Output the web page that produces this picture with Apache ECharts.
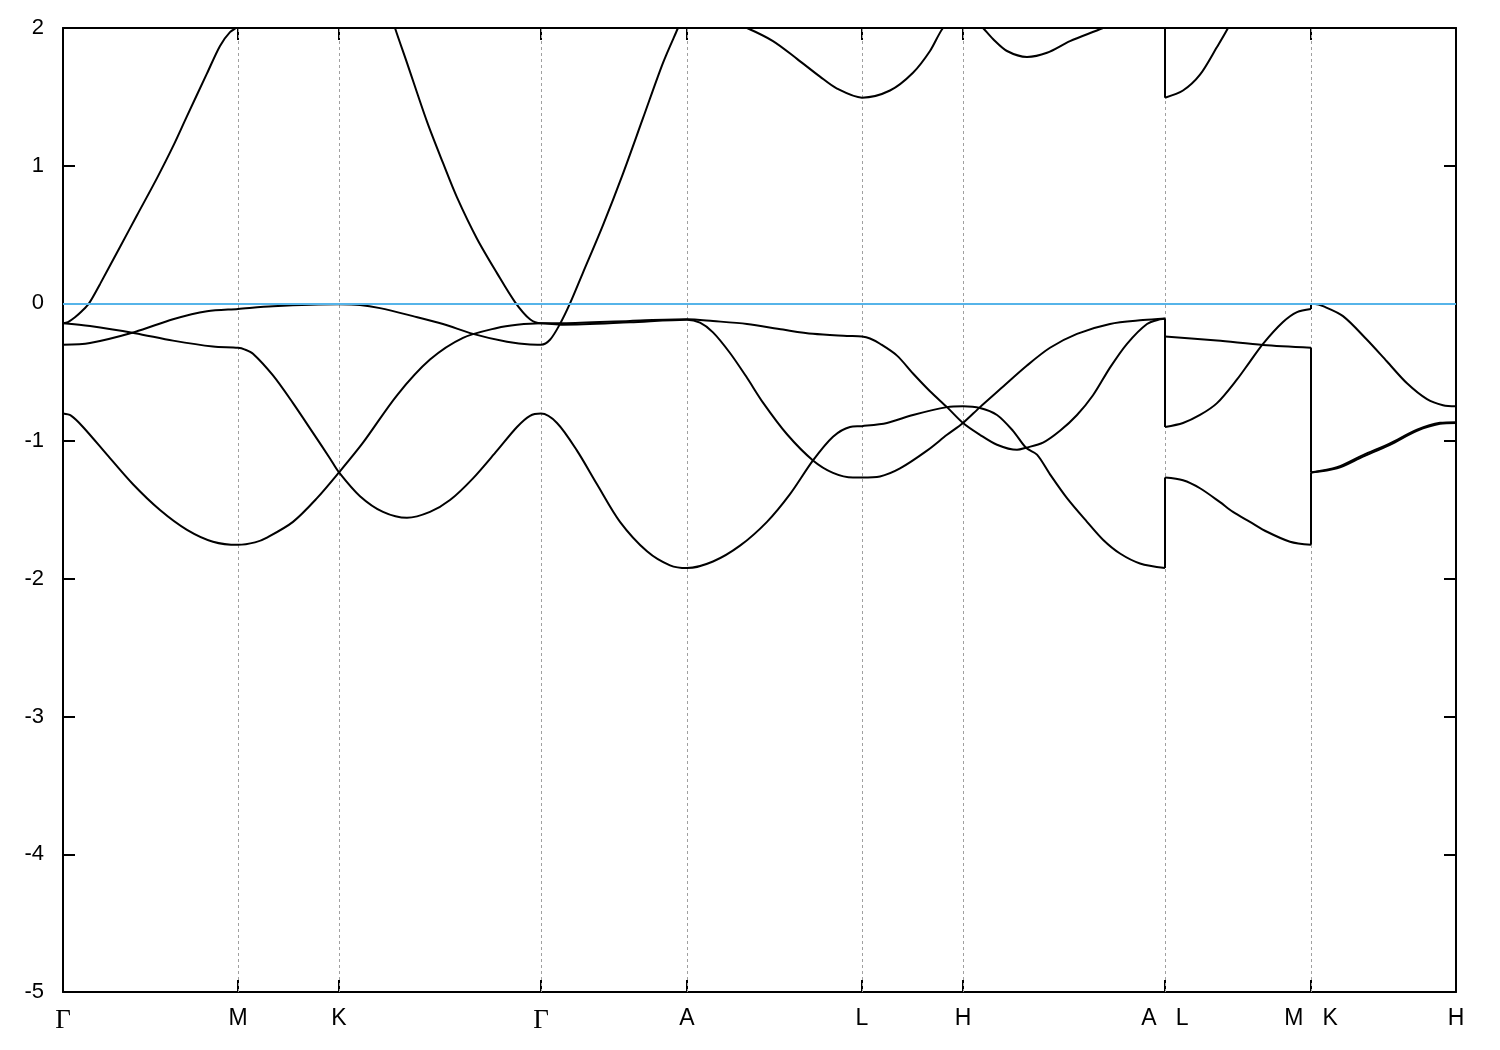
<!DOCTYPE html>
<html>
<head>
<meta charset="utf-8">
<title>Band structure</title>
<script src="https://cdn.jsdelivr.net/npm/echarts@6/dist/echarts.min.js"></script>
<style>
  html, body { margin: 0; padding: 0; background: #ffffff; }
  #chart { width: 1500px; height: 1050px; }
</style>
</head>
<body>
<div id="chart"></div>
<script>
// High-symmetry points along the k-path (path distance, arbitrary units)
const kPos = [0, 1.75, 2.76, 4.78, 6.24, 7.99, 9.00, 11.02, 12.48, 13.93];
const kLabels = ['Γ', 'M', 'K', 'Γ', 'A', 'L', 'H', 'A   L', 'M   K', 'H'];
const yMin = -5, yMax = 2, yStep = 1;
const fermiLevel = 0;

// Part 1: Γ-M-K-Γ-A-L-H-A  (energy in eV)
const band1 = [
  [0, -0.144], [0.05, -0.135], [0.12, -0.10], [0.19, -0.055], [0.26, 0.0], [0.37, 0.14],
  [0.57, 0.41], [0.74, 0.64], [0.94, 0.91], [1.10, 1.14], [1.24, 1.36], [1.44, 1.67],
  [1.57, 1.87], [1.67, 1.97], [1.75, 2.01],
  [2.10, 2.25], [2.76, 2.6], [3.05, 2.5], [3.20, 2.28], [3.32, 2.0],
  [3.44, 1.747], [3.64, 1.32], [3.80, 1.02], [3.94, 0.77], [4.14, 0.47], [4.34, 0.22],
  [4.52, 0.01], [4.67, -0.115], [4.78, -0.144],
  [5.0, -0.144], [5.67, -0.127], [6.24, -0.115],
  [6.50, -0.128], [6.84, -0.149], [7.20, -0.19], [7.50, -0.221], [7.84, -0.236], [7.99, -0.241],
  [8.07, -0.255], [8.17, -0.293], [8.34, -0.379], [8.50, -0.509], [8.67, -0.638], [8.84, -0.753], [9.00, -0.868],
  [9.17, -0.954], [9.34, -1.026], [9.54, -1.063], [9.63, -1.048], [9.80, -1.011], [9.97, -0.925],
  [10.14, -0.81], [10.30, -0.667], [10.47, -0.466], [10.64, -0.293], [10.84, -0.149], [10.97, -0.115], [11.02, -0.112]
];
const band2 = [
  [0, -0.144], [0.27, -0.164], [0.72, -0.216], [1.10, -0.27], [1.50, -0.313], [1.75, -0.322],
  [1.82, -0.335], [1.90, -0.365], [2.10, -0.523], [2.30, -0.724], [2.50, -0.94], [2.67, -1.126], [2.76, -1.227],
  [2.97, -1.40], [3.20, -1.514], [3.44, -1.557], [3.67, -1.514], [3.87, -1.428], [4.10, -1.27],
  [4.34, -1.069], [4.54, -0.897], [4.67, -0.816], [4.78, -0.80],
  [4.94, -0.868], [5.14, -1.069], [5.34, -1.313], [5.57, -1.586], [5.84, -1.80], [6.07, -1.902], [6.24, -1.922],
  [6.50, -1.874], [6.77, -1.759], [7.04, -1.586], [7.27, -1.385], [7.50, -1.14], [7.70, -0.968], [7.87, -0.897], [7.99, -0.891],
  [8.24, -0.868], [8.50, -0.81], [8.84, -0.753], [9.00, -0.747],
  [9.17, -0.759], [9.34, -0.81], [9.50, -0.925], [9.63, -1.048], [9.74, -1.098], [9.87, -1.241],
  [10.04, -1.414], [10.24, -1.586], [10.40, -1.716], [10.57, -1.816], [10.77, -1.888], [11.02, -1.922]
];
const band3 = [
  [0, -0.30], [0.27, -0.287], [0.72, -0.207], [1.10, -0.115], [1.44, -0.057], [1.75, -0.04],
  [2.10, -0.02], [2.76, -0.006],
  [2.97, -0.011], [3.17, -0.034], [3.50, -0.092], [3.80, -0.149], [4.10, -0.221], [4.44, -0.279], [4.67, -0.299], [4.78, -0.30],
  [4.87, -0.264], [4.97, -0.149], [5.07, 0.0], [5.20, 0.224], [5.40, 0.569], [5.60, 0.943],
  [5.80, 1.345], [6.00, 1.747], [6.15, 2.0], [6.24, 2.15],
  [6.50, 2.10], [6.84, 2.0], [7.10, 1.905], [7.34, 1.776], [7.57, 1.647], [7.74, 1.56], [7.99, 1.494],
  [8.27, 1.546], [8.50, 1.675], [8.67, 1.833], [8.80, 2.0], [9.00, 2.15],
  [9.20, 2.0], [9.30, 1.92], [9.44, 1.833], [9.64, 1.79], [9.84, 1.82], [10.07, 1.905], [10.40, 2.0],
  [10.70, 2.1], [11.02, 2.15]
];
const band4 = [
  [0, -0.80], [0.08, -0.815], [0.20, -0.897], [0.44, -1.098], [0.70, -1.313], [0.97, -1.50],
  [1.24, -1.644], [1.50, -1.73], [1.75, -1.753],
  [1.92, -1.735], [2.04, -1.70], [2.30, -1.586], [2.54, -1.414], [2.76, -1.227],
  [3.00, -1.011], [3.34, -0.667], [3.67, -0.408], [4.00, -0.25], [4.34, -0.178], [4.54, -0.155], [4.78, -0.144],
  [5.0, -0.154], [5.67, -0.137], [6.24, -0.118],
  [6.37, -0.14], [6.50, -0.21], [6.67, -0.36], [6.84, -0.54], [7.00, -0.72], [7.24, -0.95],
  [7.50, -1.14], [7.70, -1.23], [7.90, -1.264], [7.99, -1.264],
  [8.17, -1.256], [8.37, -1.198], [8.64, -1.069], [8.84, -0.954], [9.00, -0.868],
  [9.17, -0.753], [9.37, -0.624], [9.64, -0.451], [9.87, -0.322], [10.14, -0.221], [10.47, -0.149],
  [10.80, -0.121], [11.02, -0.109]
];

// Part 2: L-M
const lm1 = [[11.02, 1.494], [11.20, 1.546], [11.37, 1.661], [11.54, 1.862], [11.65, 2.0], [11.80, 2.22]];
const lm2 = [[11.02, -0.241], [11.54, -0.27], [12.00, -0.302], [12.48, -0.322]];
const lm3 = [
  [11.02, -0.897], [11.20, -0.868], [11.37, -0.81], [11.54, -0.724], [11.74, -0.552], [11.87, -0.422],
  [12.00, -0.293], [12.20, -0.135], [12.34, -0.063], [12.48, -0.04]
];
const lm4 = [
  [11.02, -1.264], [11.20, -1.284], [11.37, -1.342], [11.57, -1.443], [11.70, -1.514], [11.87, -1.586],
  [12.04, -1.658], [12.27, -1.73], [12.48, -1.753]
];

// Part 3: K-H
const kh1 = [
  [12.48, -0.005], [12.52, -0.004], [12.60, -0.02], [12.80, -0.092], [13.04, -0.264], [13.24, -0.422],
  [13.44, -0.58], [13.64, -0.695], [13.80, -0.739], [13.93, -0.747]
];
const kh2 = [
  [12.48, -1.227], [12.74, -1.198], [13.00, -1.112], [13.27, -1.026], [13.54, -0.925], [13.77, -0.874], [13.93, -0.868]
];
const kh3 = [
  [12.48, -1.227], [12.74, -1.19], [13.00, -1.101], [13.27, -1.016], [13.54, -0.917], [13.77, -0.867], [13.93, -0.862]
];

const part1 = [band1, band2, band3, band4];
const part2 = [lm1, lm2, lm3, lm4];
const part3 = [kh1, kh2, kh3];

// Vertical joins at path discontinuities (bands joined in energy order, from the lowest)
function joins(prev, next, x) {
  const a = prev.map(b => b[b.length - 1][1]).sort((p, q) => p - q);
  const b = next.map(b => b[0][1]).sort((p, q) => p - q);
  const out = [];
  for (let i = 0; i < Math.min(a.length, b.length); i++) out.push([[x, a[i]], [x, b[i]]]);
  return out;
}
const joinAL = joins(part1, part2, kPos[7]);
const joinMK = joins(part2, part3, kPos[8]);

const bandStyle = { color: '#000000', width: 2 };
const series = [];

// reference lines: high-symmetry verticals (beneath the bands)
series.push({
  type: 'line', data: [], silent: true, z: 1,
  markLine: {
    silent: true, symbol: 'none', animation: false, z: 1,
    label: { show: false },
    lineStyle: { color: '#a0a0a0', type: [3, 3], width: 1 },
    data: kPos.slice(1, kPos.length - 1).map(k => ({ xAxis: k }))
  }
});

[...part1, ...part2, ...part3].forEach(b => {
  series.push({
    type: 'line', data: b, symbol: 'none', showSymbol: false, smooth: 0.3,
    lineStyle: bandStyle, clip: true, silent: true, z: 3
  });
});
[...joinAL, ...joinMK].forEach(j => {
  series.push({
    type: 'line', data: j, symbol: 'none', showSymbol: false, smooth: false,
    lineStyle: bandStyle, clip: true, silent: true, z: 3
  });
});

// Fermi level
series.push({
  type: 'line', data: [], silent: true, z: 6,
  markLine: {
    silent: true, symbol: 'none', animation: false, z: 6,
    label: { show: false },
    lineStyle: { color: '#56b4e9', type: 'solid', width: 2 },
    data: [{ yAxis: fermiLevel }]
  }
});

const labelFont = 'Liberation Sans, Arial, sans-serif';
const chart = echarts.init(document.getElementById('chart'), null, { renderer: 'canvas' });
chart.setOption({
  animation: false,
  backgroundColor: '#ffffff',
  grid: { left: 63, right: 44, top: 28, bottom: 58, containLabel: false },
  xAxis: [
    {
      type: 'value', min: kPos[0], max: kPos[kPos.length - 1], position: 'bottom',
      axisLine: { show: true, onZero: false, lineStyle: { color: '#000', width: 2 } },
      axisTick: { show: true, inside: true, length: 12, customValues: kPos, lineStyle: { color: '#000', width: 2 } },
      axisLabel: {
        show: true, customValues: kPos, margin: 15, color: '#000', fontSize: 23,
        fontFamily: labelFont,
        formatter: function (v) {
          const i = kPos.findIndex(k => Math.abs(k - v) < 1e-6);
          const t = i >= 0 ? kLabels[i] : '';
          return t === 'Γ' ? '{g|Γ}' : t;
        },
        rich: { g: { fontFamily: 'Liberation Serif, DejaVu Serif, serif', fontSize: 27, color: '#000' } }
      },
      splitLine: { show: false }
    },
    {
      type: 'value', min: kPos[0], max: kPos[kPos.length - 1], position: 'top',
      axisLine: { show: true, onZero: false, lineStyle: { color: '#000', width: 2 } },
      axisTick: { show: true, inside: true, length: 12, customValues: kPos, lineStyle: { color: '#000', width: 2 } },
      axisLabel: { show: false },
      splitLine: { show: false }
    }
  ],
  yAxis: [
    {
      type: 'value', min: yMin, max: yMax, interval: yStep, position: 'left',
      axisLine: { show: true, onZero: false, lineStyle: { color: '#000', width: 2 } },
      axisTick: { show: true, inside: true, length: 12, lineStyle: { color: '#000', width: 2 } },
      axisLabel: { show: true, margin: 19, color: '#000', fontSize: 22, fontFamily: labelFont },
      splitLine: { show: false }
    },
    {
      type: 'value', min: yMin, max: yMax, interval: yStep, position: 'right',
      axisLine: { show: true, onZero: false, lineStyle: { color: '#000', width: 2 } },
      axisTick: { show: true, inside: true, length: 12, lineStyle: { color: '#000', width: 2 } },
      axisLabel: { show: false },
      splitLine: { show: false }
    }
  ],
  series: series
});
</script>
</body>
</html>
